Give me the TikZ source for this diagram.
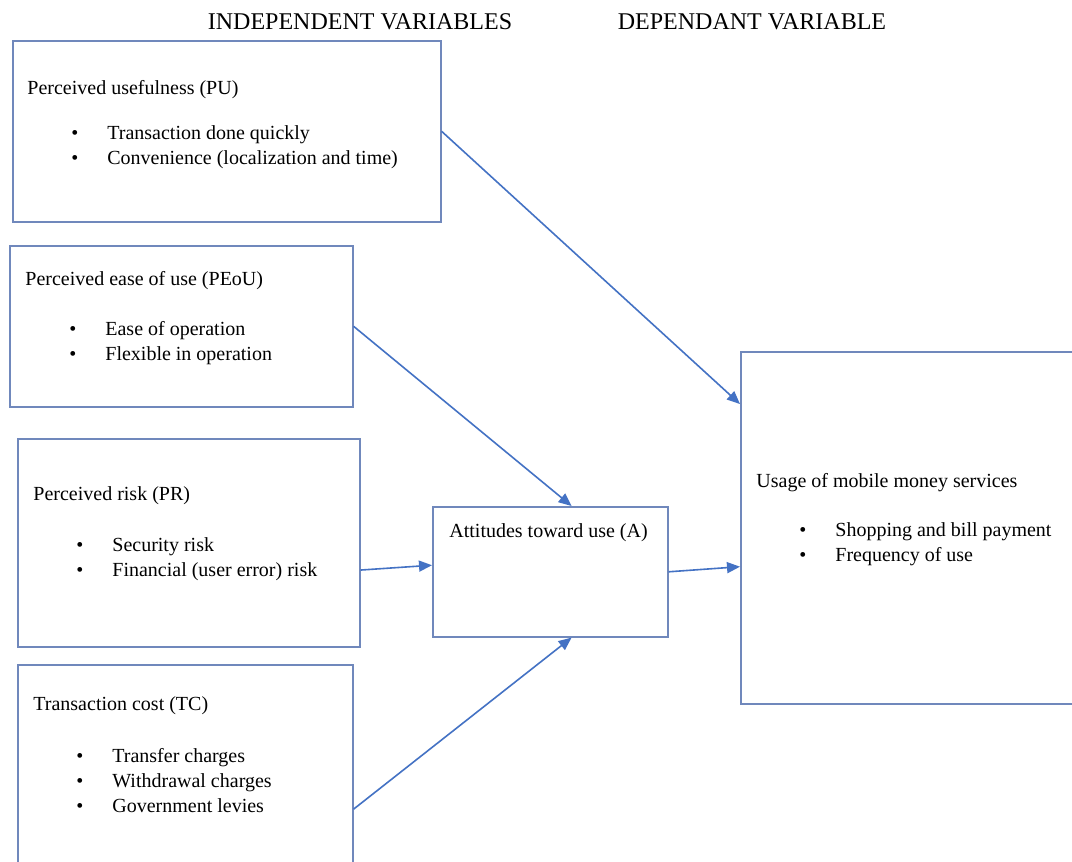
\documentclass[tikz,border=0pt]{standalone}
\usepackage{fontspec}
\setmainfont{Liberation Serif}
\newfontfamily\bodyfont{Liberation Serif}
\usepackage{xcolor}
\usepackage{tikz}
\usetikzlibrary{arrows.meta,calc,positioning}
\definecolor{boxline}{HTML}{7088BC}
\definecolor{linkline}{HTML}{4472C4}
\tikzset{
  varbox/.style={
    draw=boxline,
    line width=0.8pt,
    fill=white,
    anchor=north west,
    inner sep=0pt
  },
  heading/.style={font=\bodyfont\fontsize{12pt}{14pt}\selectfont, anchor=center, inner sep=0pt},
  boxtitle/.style={font=\bodyfont\fontsize{10pt}{12.5pt}\selectfont, anchor=base west, inner sep=0pt},
  itemlist/.style={font=\bodyfont\fontsize{10pt}{12.5pt}\selectfont, anchor=west, align=left, inner sep=0pt},
  link/.style={line width=0.8pt, draw=linkline, -{Triangle[length=6.5pt,width=5.5pt]}}
}
\newcommand{\bul}{\makebox[18pt][l]{\textbullet}}
\begin{document}
\begin{tikzpicture}[x=0.5pt,y=-0.5pt]
\useasboundingbox (0,0) rectangle (1072,862);
\clip (0,0) rectangle (1072,862);
\fill[white] (0,0) rectangle (1072,862);

\node[heading] (indep) at (360,22) {INDEPENDENT VARIABLES};
\node[heading] (dep) at (752,22) {DEPENDANT VARIABLE};

% boxes
\node[varbox, minimum width=214pt, minimum height=90.5pt] (pu) at (12,40) {};
\node[varbox, minimum width=171.5pt, minimum height=80.5pt] (peou) at (9,245) {};
\node[varbox, minimum width=171pt, minimum height=104pt] (pr) at (17,438) {};
\node[varbox, minimum width=167.5pt, minimum height=110pt] (tc) at (17,664) {};
\node[varbox, minimum width=117.5pt, minimum height=65pt] (att) at (432,506) {};
\node[varbox, minimum width=175pt, minimum height=176pt] (use) at (740,351) {};

% texts
\node[boxtitle] (putitle) at (27,94) {Perceived usefulness (PU)};
\node[itemlist] (pulist) at (71,147) {\bul Transaction done quickly\\ \bul Convenience (localization and time)};

\node[boxtitle] (peoutitle) at (25,285) {Perceived ease of use (PEoU)};
\node[itemlist] (peoulist) at (69,343) {\bul Ease of operation\\ \bul Flexible in operation};

\node[boxtitle] (prtitle) at (33,500) {Perceived risk (PR)};
\node[itemlist] (prlist) at (76,559) {\bul Security risk\\ \bul Financial (user error) risk};

\node[boxtitle] (tctitle) at (33,710) {Transaction cost (TC)};
\node[itemlist] (tclist) at (76,781) {\bul Transfer charges\\ \bul Withdrawal charges\\ \bul Government levies};

\node[boxtitle] (atttitle) at (449,537) {Attitudes toward use (A)};

\node[boxtitle] (usetitle) at (756,487) {Usage of mobile money services};
\node[itemlist] (uselist) at (799,544) {\bul Shopping and bill payment\\ \bul Frequency of use};

% arrows
\draw[link] (pu.east) -- ($(use.north west)!0.15!(use.south west)$);
\draw[link] (peou.east) -- ($(att.north west)!0.59!(att.north east)$);
\draw[link] ($(pr.north east)!0.63!(pr.south east)$) -- ($(att.north west)!0.45!(att.south west)$);
\draw[link] ($(tc.north east)!0.655!(tc.south east)$) -- ($(att.south west)!0.59!(att.south east)$);
\draw[link] (att.east) -- ($(use.north west)!0.61!(use.south west)$);

\end{tikzpicture}
\end{document}
